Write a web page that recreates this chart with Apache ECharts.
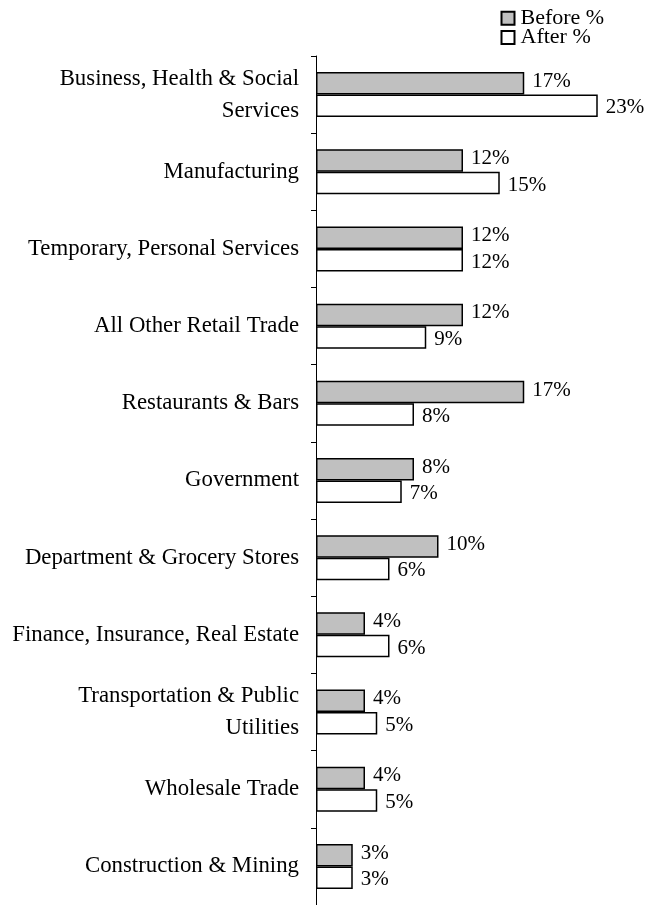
<!DOCTYPE html>
<html>
<head>
<meta charset="utf-8">
<script src="https://cdn.jsdelivr.net/npm/echarts@6/dist/echarts.min.js"></script>
<style>
html,body{margin:0;padding:0;background:#fff;}
#chart{width:651px;height:905px;}
</style>
</head>
<body>
<div id="chart"></div>
<script>
var categories = [
  'Business, Health & Social\nServices',
  'Manufacturing',
  'Temporary, Personal Services',
  'All Other Retail Trade',
  'Restaurants & Bars',
  'Government',
  'Department & Grocery Stores',
  'Finance, Insurance, Real Estate',
  'Transportation & Public\nUtilities',
  'Wholesale Trade',
  'Construction & Mining'
];
var beforeValues = [17, 12, 12, 12, 17, 8, 10, 4, 4, 4, 3];
var afterValues  = [23, 15, 12, 9, 8, 7, 6, 6, 5, 5, 3];
var seriesNames = ['Before %', 'After %'];

var FONT = '"Liberation Serif", "Times New Roman", serif';
var chart = echarts.init(document.getElementById('chart'), null, {renderer: 'canvas'});

function legendCfg(name, top) {
  return {
    data: [name],
    left: 495.5,
    top: top,
    orient: 'vertical',
    icon: 'rect',
    itemWidth: 13,
    itemHeight: 13,
    selectedMode: false,
    textStyle: {
      fontFamily: FONT,
      fontSize: 22,
      color: '#000',
      lineHeight: 14,
      padding: [0, 0, 6, 1]
    }
  };
}

chart.setOption({
  animation: false,
  backgroundColor: '#fff',
  legend: [legendCfg(seriesNames[0], 2.2), legendCfg(seriesNames[1], 21.5)],
  grid: {left: 316, top: 56, width: 306.25, height: 850, containLabel: false},
  xAxis: {
    type: 'value',
    min: 0,
    max: 25,
    show: false
  },
  yAxis: {
    type: 'category',
    inverse: true,
    data: categories,
    axisLine: {show: true, lineStyle: {color: '#000', width: 1}},
    axisTick: {show: true, length: 5, lineStyle: {color: '#000', width: 1}},
    axisLabel: {
      margin: 17,
      color: '#000',
      fontFamily: FONT,
      fontSize: 22.8,
      lineHeight: 32,
      align: 'right'
    }
  },
  series: [
    {
      name: seriesNames[0],
      type: 'bar',
      data: beforeValues,
      barWidth: 22.5,
      barGap: '0%',
      itemStyle: {color: '#c0c0c0', borderColor: '#000', borderWidth: 1.5},
      label: {
        show: true,
        position: 'right',
        distance: 8,
        offset: [0, -2],
        formatter: '{c}%',
        color: '#000',
        fontFamily: FONT,
        fontSize: 21
      }
    },
    {
      name: seriesNames[1],
      type: 'bar',
      data: afterValues,
      barWidth: 22.5,
      barGap: '0%',
      itemStyle: {color: '#ffffff', borderColor: '#000', borderWidth: 1.5},
      label: {
        show: true,
        position: 'right',
        distance: 8,
        offset: [0, 2],
        formatter: '{c}%',
        color: '#000',
        fontFamily: FONT,
        fontSize: 21
      }
    }
  ]
});
</script>
</body>
</html>
